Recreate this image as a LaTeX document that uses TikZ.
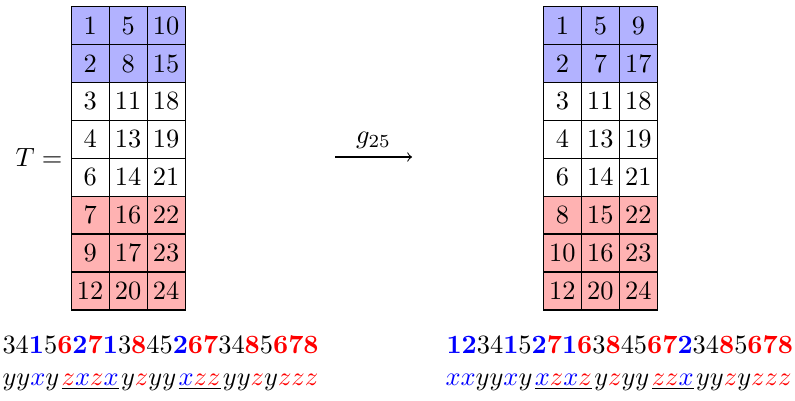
\documentclass[tikz,border=0pt]{standalone}
\usepackage{xcolor}
\begin{document}
\begin{tikzpicture}[x=0.3788pt,y=-0.3788pt,
  cell/.style={draw, line width=0.5pt, minimum width=38*0.3788pt, minimum height=37.9*0.3788pt, inner sep=0pt, anchor=north west},
  bcell/.style={cell, fill=blue!30},
  rcell/.style={cell, fill=red!30},
  wcell/.style={cell, fill=white},
  txt/.style={inner sep=0pt, anchor=base west}]
\useasboundingbox (0,0) rectangle (795,401);
\newcommand{\Bl}[1]{\textcolor{blue}{\textbf{#1}}}
\newcommand{\Rd}[1]{\textcolor{red}{\textbf{#1}}}
\newcommand{\X}{{\color{blue}x}}
\newcommand{\Z}{{\color{red}z}}
\newcommand{\G}{\kern0.9pt}
% left table
\foreach \r/\a/\b/\c/\s in {0/1/5/10/bcell,1/2/8/15/bcell,2/3/11/18/wcell,3/4/13/19/wcell,4/6/14/21/wcell,5/7/16/22/rcell,6/9/17/23/rcell,7/12/20/24/rcell}{
  \node[\s] (L-\r-1) at (70.5,6+37.9*\r) {$\a$};
  \node[\s] (L-\r-2) at (108.5,6+37.9*\r) {$\b$};
  \node[\s] (L-\r-3) at (146.5,6+37.9*\r) {$\c$};
}
% right table
\foreach \r/\a/\b/\c/\s in {0/1/5/9/bcell,1/2/7/17/bcell,2/3/11/18/wcell,3/4/13/19/wcell,4/6/14/21/wcell,5/8/15/22/rcell,6/10/16/23/rcell,7/12/20/24/rcell}{
  \node[\s] (R-\r-1) at (542.7,6+37.9*\r) {$\a$};
  \node[\s] (R-\r-2) at (580.7,6+37.9*\r) {$\b$};
  \node[\s] (R-\r-3) at (618.7,6+37.9*\r) {$\c$};
}
\node[anchor=east, inner sep=0pt] (T) at (63,157) {$T =$};
\coordinate (a1) at (335,157);
\coordinate (a2) at (412,157);
\draw[->] (a1) -- node[above, inner sep=3pt] (g) {$g_{25}$} (a2);
% bottom texts
\node[txt] (ld) at (2,353) {34\Bl{1}5\Rd{6}\Bl{2}\Rd{7}\Bl{1}3\Rd{8}45\Bl{2}\Rd{6}\Rd{7}34\Rd{8}5\Rd{6}\Rd{7}\Rd{8}};
\node[txt] (ll) at (2,385) {$yy\X y\G\underline{\Z\X\Z\X}\G y\Z yy\G\underline{\X\Z\Z}\G yy\Z y\Z\Z\Z$};
\node[txt] (rd) at (446,353) {\Bl{1}\Bl{2}34\Bl{1}5\Bl{2}\Rd{7}\Bl{1}\Rd{6}3\Rd{8}45\Rd{6}\Rd{7}\Bl{2}34\Rd{8}5\Rd{6}\Rd{7}\Rd{8}};
\node[txt] (rl) at (445,385) {$\X\X yy\X y\G\underline{\X\Z\X\Z}\G y\Z yy\G\underline{\Z\Z\X}\G yy\Z y\Z\Z\Z$};
\end{tikzpicture}
\end{document}
